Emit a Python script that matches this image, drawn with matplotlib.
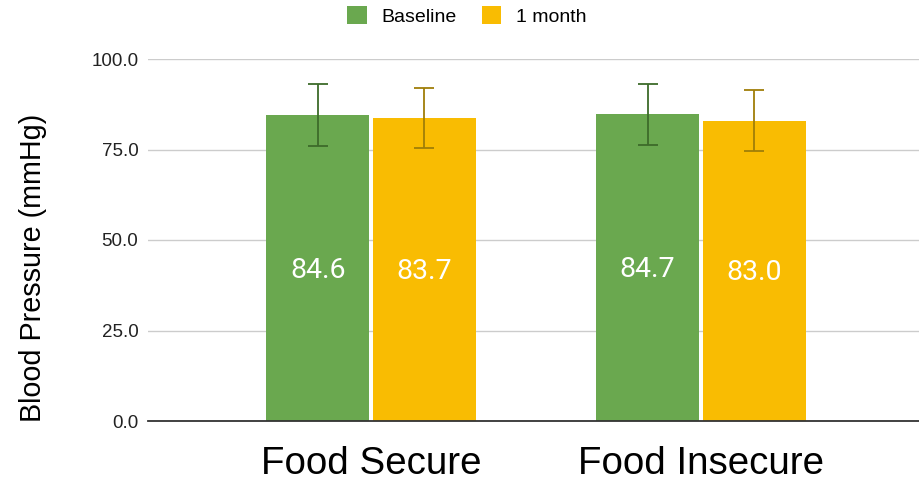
import matplotlib
matplotlib.use("Agg")
import matplotlib.pyplot as plt
import numpy as np
from matplotlib.patches import Patch

categories = ["Food Secure", "Food Insecure"]
series_names = ["Baseline", "1 month"]
baseline = [84.6, 84.7]
one_month = [83.7, 83.0]
baseline_err = [8.5, 8.5]
one_month_err = [8.4, 8.3]
yticks = [0, 25, 50, 75, 100]

green = "#6aa84f"
yellow = "#f9bc02"
green_err = "#3d6b2a"
yellow_err = "#a07e08"

fig = plt.figure(figsize=(9.19, 4.82), dpi=100)
ax = fig.add_axes([148/919, 61/482, 1 - 148/919, 362/482])

x = np.arange(len(categories))
w = 0.312
off = 0.1615
ax.bar(x - off, baseline, width=w, color=green, zorder=3)
ax.bar(x + off, one_month, width=w, color=yellow, zorder=3)
ax.errorbar(x - off, baseline, yerr=baseline_err, fmt="none", ecolor=green_err,
            elinewidth=1.3, capsize=7, capthick=1.3, zorder=4)
ax.errorbar(x + off, one_month, yerr=one_month_err, fmt="none", ecolor=yellow_err,
            elinewidth=1.3, capsize=7, capthick=1.3, zorder=4)

for xs, vals in ((x - off, baseline), (x + off, one_month)):
    for xi, v in zip(xs, vals):
        ax.text(xi, v / 2 - 0.6, f"{v:.1f}", ha="center", va="center", color="white",
                fontsize=20.5, family="Roboto", zorder=5)

ax.set_ylim(0, 100)
ax.set_xlim(-0.676, 1.661)
ax.set_yticks(yticks)
ax.set_yticklabels([f"{t:.1f}" for t in yticks], fontsize=13.5, family="Liberation Sans", color="#222222")
ax.set_xticks(x)
ax.set_xticklabels(categories, fontsize=27.7, family="Liberation Sans")
ax.tick_params(axis="x", length=0, pad=18)
ax.tick_params(axis="y", length=0, pad=7)
ax.yaxis.grid(True, color="#cccccc", linewidth=1, zorder=0)
for s in ("top", "right", "left"):
    ax.spines[s].set_visible(False)
ax.spines["bottom"].set_color("#333333")
ax.spines["bottom"].set_linewidth(1.3)
ax.spines["bottom"].set_zorder(6)

ax.set_ylabel("Blood Pressure (mmHg)", fontsize=20.7, family="Liberation Sans",
              va="center", ha="center")
ax.yaxis.set_label_coords(-0.149, 0.423)

handles = [Patch(facecolor=green, edgecolor="none"), Patch(facecolor=yellow, edgecolor="none")]
fig.legend(handles, series_names, loc="center", bbox_to_anchor=(467/919, 1 - 16/482), ncol=2,
           frameon=False, prop={"family": "Liberation Sans", "size": 14},
           handlelength=1.0, handleheight=1.0, columnspacing=1.3, handletextpad=0.75)

fig.savefig("out.png", dpi=100)
